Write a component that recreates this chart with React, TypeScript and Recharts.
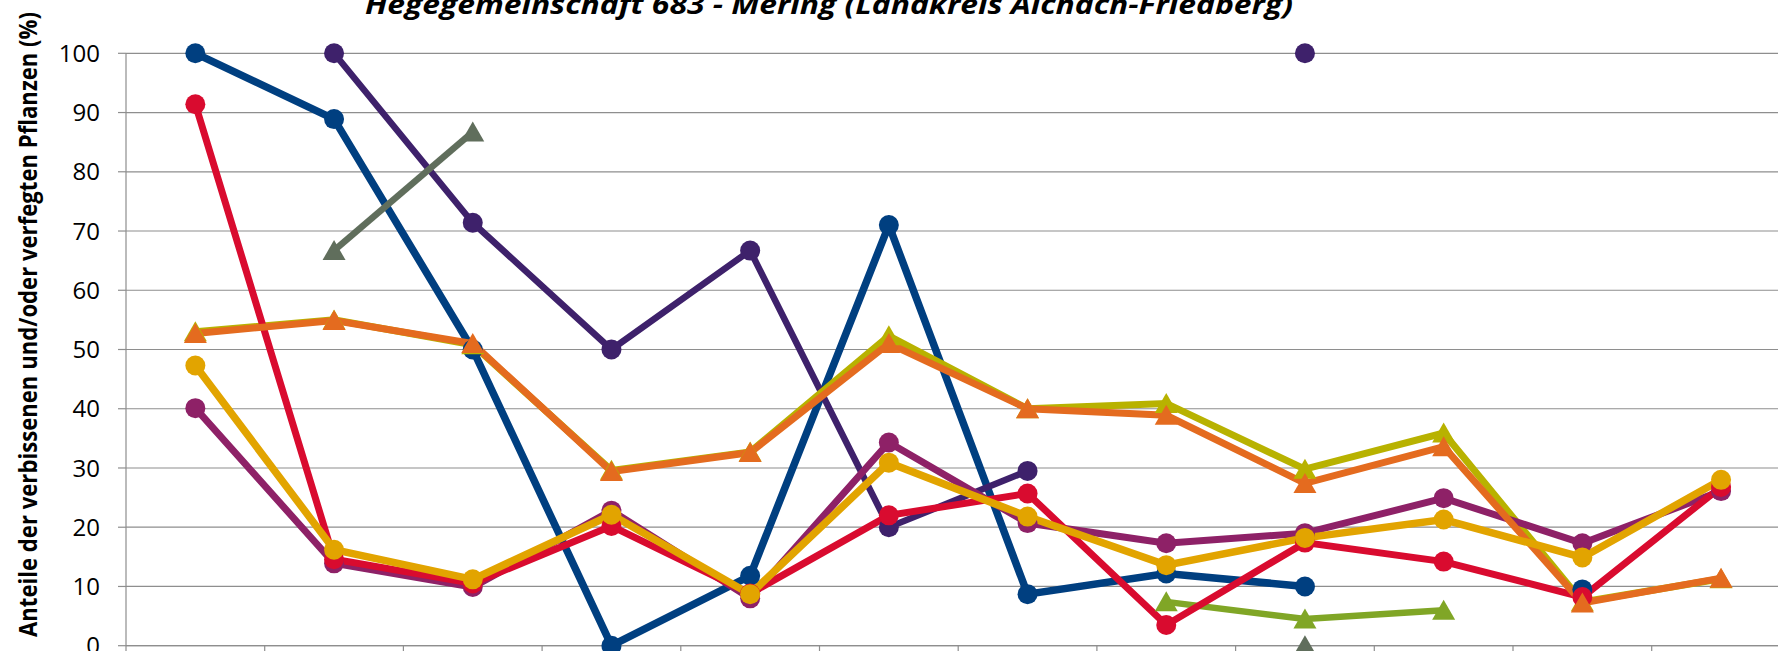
import React from "react";
import { LineChart, Line, XAxis, YAxis, CartesianGrid } from "recharts";

// survey years (the axis labels lie below the visible crop)
const years = ["1991", "1994", "1997", "2000", "2003", "2006", "2009", "2012", "2015", "2018", "2021", "2024"];
const yTicks = [0, 10, 20, 30, 40, 50, 60, 70, 80, 90, 100];

const fichte       = [100, 88.9, 50, 0, 11.8, 71.0, 8.7, 12.2, 10.0, null, 9.5, null];
const tanne        = [null, 100, 71.4, 50, 66.7, 20.0, 29.5, null, 100, null, null, null];
const kiefer       = [null, 66.7, 86.7, null, null, null, null, null, 0, null, null, null];
const laerche      = [null, null, null, null, null, null, null, 7.4, 4.5, 6.0, null, null];
const laubholz     = [53.0, 55.0, 50.8, 29.6, 32.7, 52.3, 40.0, 40.9, 29.8, 35.9, 7.4, 11.3];
const edellaubholz = [40.1, 13.9, 9.9, 22.8, 8.0, 34.3, 20.7, 17.3, 19.0, 24.9, 17.3, 26.1];
const buche        = [91.4, 14.6, 10.5, 20.2, 8.8, 22.0, 25.7, 3.5, 17.4, 14.2, 8.2, 26.8];
const gesamt       = [52.7, 54.9, 51.0, 29.4, 32.6, 51.0, 40.0, 38.9, 27.4, 33.6, 7.2, 11.4];
const eiche        = [47.3, 16.2, 11.2, 22.1, 8.7, 30.9, 21.8, 13.6, 18.2, 21.3, 14.9, 28.0];

const TITLE = "Hegegemeinschaft 683 - Mering (Landkreis Aichach-Friedberg)";
const Y_LABEL = "Anteile der verbissenen und/oder verfegten Pflanzen (%)";

const GRID = "#8e8e8e";
const FONT = "'Open Sans', 'Noto Sans', sans-serif";
const CHART_W = 1800;
const CHART_H = 760;
const PLOT_LEFT = 126;
const PLOT_RIGHT = 1790.4;
const PLOT_TOP = 53.3;
const PLOT_BOTTOM = 645.7;
const X_AXIS_H = 40;
const BAND = (PLOT_RIGHT - PLOT_LEFT) / years.length;

const series = [
  { key: "fichte", name: "Fichte", color: "#003f80", values: fichte, shape: "circle", width: 7.5 },
  { key: "tanne", name: "Tanne", color: "#3e216b", values: tanne, shape: "circle", width: 6.5 },
  { key: "kiefer", name: "Kiefer", color: "#606e5c", values: kiefer, shape: "triangle", width: 6.5 },
  { key: "laerche", name: "Lärche", color: "#80a626", values: laerche, shape: "triangle", width: 6.5 },
  { key: "laubholz", name: "Laubholz", color: "#b8b200", values: laubholz, shape: "triangle", width: 7 },
  { key: "edellaubholz", name: "Edellaubholz", color: "#8e2167", values: edellaubholz, shape: "circle", width: 7 },
  { key: "buche", name: "Buche", color: "#d90b2f", values: buche, shape: "circle", width: 7 },
  { key: "gesamt", name: "Gesamt", color: "#e46b1f", values: gesamt, shape: "triangle", width: 7 },
  { key: "eiche", name: "Eiche", color: "#e2a400", values: eiche, shape: "circle", width: 7.5 },
];

const data = years.map((year, i) => {
  const row: Record<string, string | number | null> = { year };
  series.forEach((s) => { row[s.key] = s.values[i]; });
  return row;
});

const triangleDot = (color: string, key: string) => (props: any) => {
  const { cx, cy, index, value } = props;
  if (value == null || !Number.isFinite(cx) || !Number.isFinite(cy)) return <g key={`${key}-${index}`} />;
  return (
    <path
      key={`${key}-${index}`}
      d={`M${cx},${cy - 10.5}L${cx + 11.5},${cy + 9.5}L${cx - 11.5},${cy + 9.5}Z`}
      fill={color}
    />
  );
};

// tick marks sit between categories, like the original
const CategoryTick = (props: any) => {
  const { x, y, index } = props;
  const last = index === years.length - 1;
  return (
    <g>
      <line x1={x - BAND / 2} x2={x - BAND / 2} y1={y} y2={y + 9} stroke={GRID} strokeWidth={1.2} />
      {last && <line x1={x + BAND / 2} x2={x + BAND / 2} y1={y} y2={y + 9} stroke={GRID} strokeWidth={1.2} />}
    </g>
  );
};

export default function App() {
  return (
    <div
      style={{
        position: "absolute",
        left: 0,
        top: 0,
        width: 1778,
        height: 651,
        overflow: "hidden",
        background: "#fff",
        fontFamily: FONT,
      }}
    >
      <LineChart
        width={CHART_W}
        height={CHART_H}
        data={data}
        margin={{ top: PLOT_TOP, right: CHART_W - PLOT_RIGHT, bottom: CHART_H - PLOT_BOTTOM - X_AXIS_H, left: 0 }}
      >
        <CartesianGrid vertical={false} stroke={GRID} strokeWidth={1.2} />
        <XAxis
          dataKey="year"
          height={X_AXIS_H}
          padding={{ left: BAND / 2, right: BAND / 2 }}
          interval={0}
          tickLine={false}
          tickSize={0}
          tickMargin={0}
          axisLine={{ stroke: GRID, strokeWidth: 1.2 }}
          tick={<CategoryTick />}
        />
        <YAxis
          width={PLOT_LEFT}
          domain={[0, 100]}
          ticks={yTicks}
          interval={0}
          tickSize={8}
          tickMargin={18}
          tickLine={{ stroke: GRID, strokeWidth: 1.2 }}
          axisLine={{ stroke: GRID, strokeWidth: 1.2 }}
          tick={{ fontSize: 24, fill: "#000", fontFamily: FONT }}
        />
        {series.map((s) => (
          <Line
            key={s.key}
            type="linear"
            dataKey={s.key}
            name={s.name}
            stroke={s.color}
            strokeWidth={s.width}
            connectNulls={false}
            dot={
              s.shape === "circle"
                ? { r: 10, fill: s.color, stroke: s.color, strokeWidth: 0 }
                : triangleDot(s.color, s.key)
            }
            activeDot={false}
            isAnimationActive={false}
          />
        ))}
      </LineChart>
      <svg
        width={1778}
        height={651}
        style={{ position: "absolute", left: 0, top: 0, pointerEvents: "none" }}
      >
        <text
          x={829}
          y={13.5}
          textAnchor="middle"
          fontSize={27}
          fontWeight="bold"
          fontStyle="italic"
          fontFamily={FONT}
          textLength={928}
          lengthAdjust="spacingAndGlyphs"
          fill="#000"
        >
          {TITLE}
        </text>
        <text
          transform="translate(36.5,324.5) rotate(-90)"
          textAnchor="middle"
          fontSize={25}
          fontWeight="bold"
          fontFamily={FONT}
          textLength={625}
          lengthAdjust="spacingAndGlyphs"
          fill="#000"
        >
          {Y_LABEL}
        </text>
      </svg>
    </div>
  );
}
